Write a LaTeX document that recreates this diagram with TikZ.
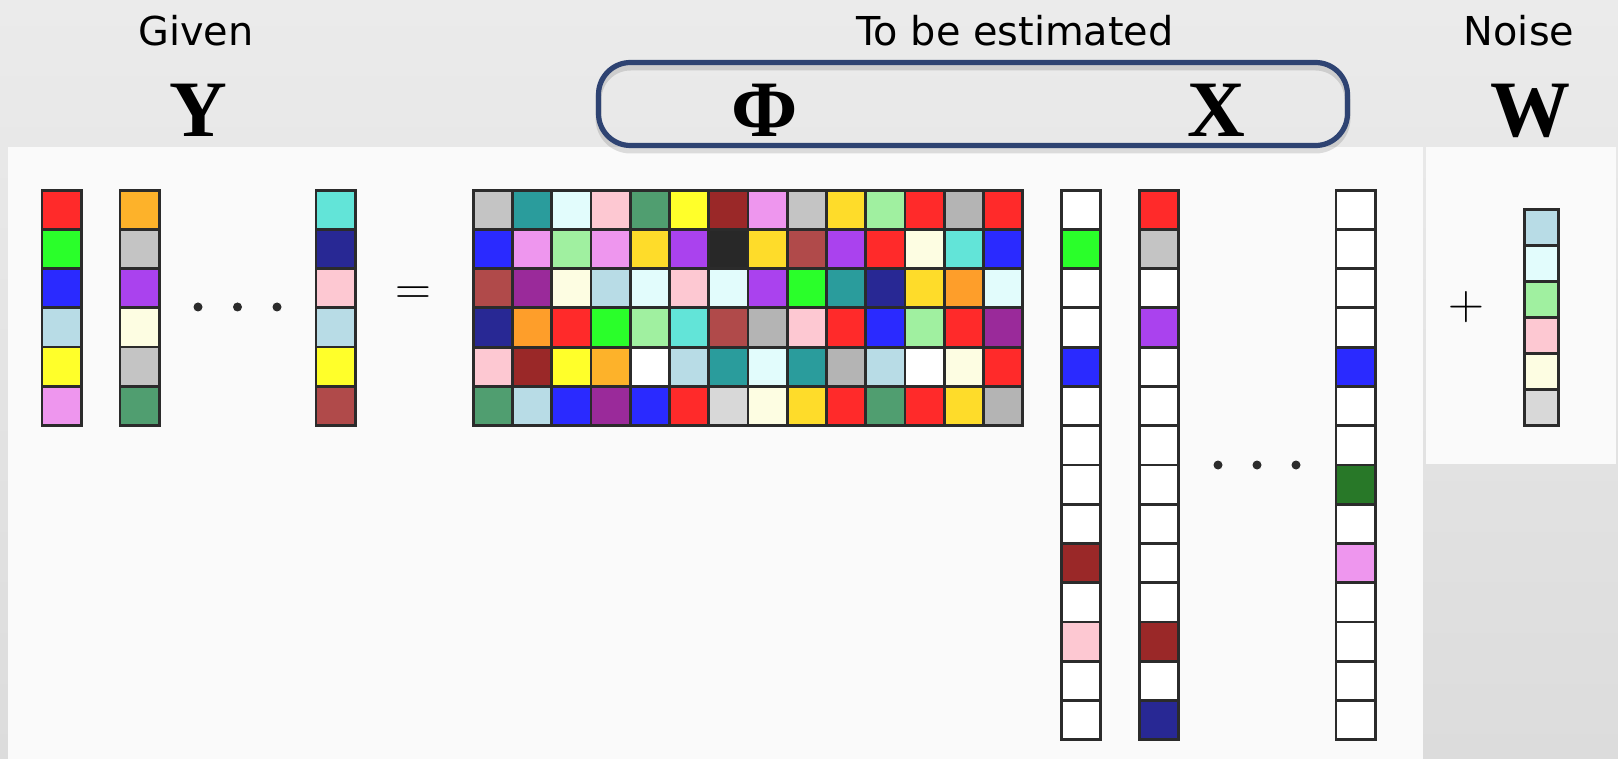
\documentclass[tikz,border=0pt]{standalone}
\usepackage{fontspec}
\setmainfont{DejaVu Sans}
\newfontfamily\symfont{Liberation Serif}
\usepackage{xcolor}

\definecolor{bgtop}{HTML}{EBEBEB}
\definecolor{bgbot}{HTML}{DCDCDC}
\definecolor{panel}{HTML}{FAFAFA}
\definecolor{cellline}{HTML}{2B2B2B}
\definecolor{boxblue}{HTML}{2E4372}
% cell palette
\definecolor{cRed}{HTML}{FF2A2A}
\definecolor{cLime}{HTML}{2AFF2A}
\definecolor{cBlue}{HTML}{2A2AFF}
\definecolor{cSky}{HTML}{B8DCE6}
\definecolor{cYellow}{HTML}{FFFF2A}
\definecolor{cOrchid}{HTML}{EE96EE}
\definecolor{cAmber}{HTML}{FDB22A}
\definecolor{cSilver}{HTML}{C4C4C4}
\definecolor{cPurple}{HTML}{AA42EE}
\definecolor{cCream}{HTML}{FDFDE2}
\definecolor{cSea}{HTML}{509E70}
\definecolor{cAqua}{HTML}{62E4D8}
\definecolor{cNavy}{HTML}{282894}
\definecolor{cPink}{HTML}{FDC8D2}
\definecolor{cBrick}{HTML}{B04A4A}
\definecolor{cTeal}{HTML}{2A9C9C}
\definecolor{cIce}{HTML}{E2FCFC}
\definecolor{cMaroon}{HTML}{9A2828}
\definecolor{cGold}{HTML}{FEDC2A}
\definecolor{cMint}{HTML}{A0F0A0}
\definecolor{cGray}{HTML}{B4B4B4}
\definecolor{cOrange}{HTML}{FE9E2A}
\definecolor{cPlum}{HTML}{9A2A9A}
\definecolor{cInk}{HTML}{282828}
\definecolor{cWhite}{HTML}{FFFFFF}
\definecolor{cPale}{HTML}{D8D8D8}
\definecolor{cForest}{HTML}{287828}

\begin{document}
\begin{tikzpicture}[x=0.5pt,y=-0.5pt]
\tikzset{
  cell/.style={draw=cellline,line width=1.4pt,minimum width=19.6pt,minimum height=19.6pt,inner sep=0pt,outer sep=0pt},
  wcell/.style={cell,minimum width=17.3pt,minimum height=18.05pt},
  toplabel/.style={anchor=base,inner sep=0pt,font=\fontsize{19.9}{24}\selectfont},
  symlabel/.style={anchor=base,inner sep=0pt,font=\symfont\bfseries\fontsize{40}{48}\selectfont},
  oplabel/.style={inner sep=0pt,font=\fontsize{23}{28}\selectfont},
  dotmark/.style={circle,fill=cellline,inner sep=0pt,minimum size=4.5pt},
  estbox/.style={draw=boxblue,line width=2.6pt,rounded corners=16pt,minimum width=374.5pt,minimum height=41.5pt,
    preaction={draw=black,opacity=0.12,line width=3pt,transform canvas={yshift=-2.5pt}}}
}
\useasboundingbox (0,0) rectangle (1618,759);
\shade[top color=bgtop,bottom color=bgbot] (0,0) rectangle (1618,759);
\fill[panel] (8,147) rectangle (1423,759);
\fill[panel] (1426,147) rectangle (1616,464);

% headings
\node[toplabel] (given) at (196,46) {Given};
\node[toplabel] (estim) at (1015,46) {To be estimated};
\node[toplabel] (noise) at (1519,46) {Noise};
\node[estbox] (est) at (973,104) {};
\node[symlabel] (ylab) at (198,137) {Y};
\node[symlabel] (philab) at (765,137) {Φ};
\node[symlabel] (xlab) at (1216,137) {X};
\node[symlabel] (wlab) at (1530,137) {W};

% Y columns
\foreach \clr [count=\i from 0] in {cRed,cLime,cBlue,cSky,cYellow,cOrchid}
  \node[cell,fill=\clr] (ya-\i) at (61.5,{209.8+39.2*\i}) {};
\foreach \clr [count=\i from 0] in {cAmber,cSilver,cPurple,cCream,cSilver,cSea}
  \node[cell,fill=\clr] (yb-\i) at (139.5,{209.8+39.2*\i}) {};
\foreach \clr [count=\i from 0] in {cAqua,cNavy,cPink,cSky,cYellow,cBrick}
  \node[cell,fill=\clr] (yc-\i) at (335.5,{209.8+39.2*\i}) {};
\foreach \xd [count=\i] in {198,237.5,277}
  \node[dotmark] (ydot\i) at (\xd,307) {};
\node[oplabel] (eq) at (413,296) {$=$};

% dictionary Phi
\foreach \row [count=\r from 0] in {
  {cSilver,cTeal,cIce,cPink,cSea,cYellow,cMaroon,cOrchid,cSilver,cGold,cMint,cRed,cGray,cRed},
  {cBlue,cOrchid,cMint,cOrchid,cGold,cPurple,cInk,cGold,cBrick,cPurple,cRed,cCream,cAqua,cBlue},
  {cBrick,cPlum,cCream,cSky,cIce,cPink,cIce,cPurple,cLime,cTeal,cNavy,cGold,cOrange,cIce},
  {cNavy,cOrange,cRed,cLime,cMint,cAqua,cBrick,cGray,cPink,cRed,cBlue,cMint,cRed,cPlum},
  {cPink,cMaroon,cYellow,cAmber,cWhite,cSky,cTeal,cIce,cTeal,cGray,cSky,cWhite,cCream,cRed},
  {cSea,cSky,cBlue,cPlum,cBlue,cRed,cPale,cCream,cGold,cRed,cSea,cRed,cGold,cGray}}
  \foreach \clr [count=\c from 0] in \row
    \node[cell,fill=\clr] (phi-\r-\c) at ({492.8+39.25*\c},{209.8+39.25*\r}) {};

% sparse codes X
\foreach \clr [count=\i from 0] in {cWhite,cLime,cWhite,cWhite,cBlue,cWhite,cWhite,cWhite,cWhite,cMaroon,cWhite,cPink,cWhite,cWhite}
  \node[cell,fill=\clr] (xa-\i) at (1081,{209.8+39.25*\i}) {};
\foreach \clr [count=\i from 0] in {cRed,cSilver,cWhite,cPurple,cWhite,cWhite,cWhite,cWhite,cWhite,cWhite,cWhite,cMaroon,cWhite,cNavy}
  \node[cell,fill=\clr] (xb-\i) at (1159,{209.8+39.25*\i}) {};
\foreach \clr [count=\i from 0] in {cWhite,cWhite,cWhite,cWhite,cBlue,cWhite,cWhite,cForest,cWhite,cOrchid,cWhite,cWhite,cWhite,cWhite}
  \node[cell,fill=\clr] (xc-\i) at (1355.5,{209.8+39.25*\i}) {};
\foreach \xd [count=\i] in {1218,1257,1296}
  \node[dotmark] (xdot\i) at (\xd,465) {};

% noise W
\node[oplabel] (plus) at (1466,307) {$+$};
\foreach \clr [count=\i from 0] in {cSky,cIce,cMint,cPink,cCream,cPale}
  \node[wcell,fill=\clr] (w-\i) at (1541.5,{227.25+36.1*\i}) {};
\end{tikzpicture}
\end{document}
